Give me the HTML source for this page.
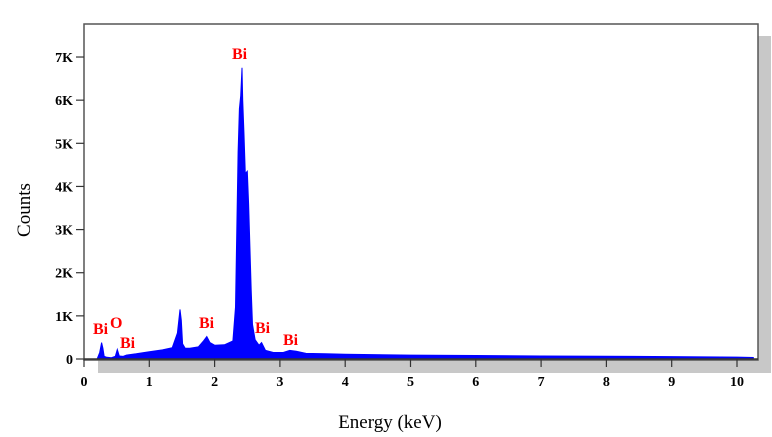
<!DOCTYPE html>
<html><head><meta charset="utf-8"><style>
body{margin:0;background:#fff;width:772px;height:437px;overflow:hidden}
svg{display:block;font-family:"Liberation Serif",serif}
</style></head><body>
<svg width="772" height="437">
<rect x="98" y="360" width="673" height="13" fill="#c8c8c8"/>
<rect x="758" y="36" width="13" height="337" fill="#c8c8c8"/>
<rect x="84" y="24" width="674" height="336" fill="#fff" stroke="#555" stroke-width="1.5"/>
<g id="spec"></g>
<g id="axes"></g>
<g font-family="Liberation Serif,serif" font-weight="bold" font-size="16" fill="#ff0000">
<text x="232" y="59">Bi</text>
<text x="93" y="334">Bi</text>
<text x="110" y="328">O</text>
<text x="120" y="348">Bi</text>
<text x="199" y="328">Bi</text>
<text x="255" y="333">Bi</text>
<text x="283" y="345">Bi</text>
</g>
<text x="30" y="210" font-size="19" text-anchor="middle" transform="rotate(-90 30 210)">Counts</text>
<text x="390" y="428" font-size="19" text-anchor="middle">Energy (keV)</text>
</svg>
<script>
const energies=[0.2,0.24,0.27,0.29,0.31,0.35,0.42,0.48,0.51,0.54,0.6,0.65,0.8,1.0,1.2,1.35,1.43,1.47,1.49,1.51,1.55,1.62,1.75,1.83,1.88,1.93,2.0,2.15,2.28,2.32,2.34,2.36,2.38,2.4,2.42,2.43,2.45,2.47,2.5,2.52,2.54,2.56,2.58,2.62,2.68,2.72,2.78,2.9,3.05,3.15,3.25,3.4,3.7,4.0,5.0,6.0,7.0,8.0,9.0,10.0,10.25];
const counts=[0,150,380,250,60,40,30,60,220,70,60,90,120,170,210,260,600,1150,900,350,250,250,280,420,520,380,320,330,420,1200,3000,4800,5800,6100,6750,6000,5200,4300,4350,3600,2600,1600,800,450,320,380,200,150,150,200,180,130,120,110,90,80,70,65,55,45,35];
const yTicks=[0,1000,2000,3000,4000,5000,6000,7000];
const yTickLabels=["0","1K","2K","3K","4K","5K","6K","7K"];
const xTicks=[0,1,2,3,4,5,6,7,8,9,10];
const X=e=>84+e*65.3, Y=c=>359-c*0.04314;
const NS="http://www.w3.org/2000/svg";
const spec=document.getElementById('spec'), axes=document.getElementById('axes');
let d="M"+X(energies[0])+","+Y(0);
energies.forEach((e,i)=>{d+=" L"+X(e).toFixed(1)+","+Y(counts[i]).toFixed(1);});
d+=" L"+X(energies[energies.length-1])+","+Y(0)+" Z";
const p=document.createElementNS(NS,'path');
p.setAttribute('d',d);p.setAttribute('fill','#0000ff');p.setAttribute('stroke','#0000ff');p.setAttribute('stroke-width','1');


spec.appendChild(p);
function mk(tag,attrs,txt){const el=document.createElementNS(NS,tag);for(const k in attrs)el.setAttribute(k,attrs[k]);if(txt!==undefined)el.textContent=txt;axes.appendChild(el);return el;}
const xl=mk('line',{x1:84,y1:359,x2:758,y2:359,stroke:'#333','stroke-width':1.5});


yTicks.forEach((v,i)=>{
 const t=mk('line',{x1:76,x2:84,y1:Y(v),y2:Y(v),stroke:'#333','stroke-width':1.2});
 
 
 const l=mk('text',{x:73,y:Y(v)+5,'text-anchor':'end','font-size':14,'font-weight':'bold'},yTickLabels[i]);
 
 
});
xTicks.forEach(v=>{
 const t=mk('line',{x1:X(v),x2:X(v),y1:359,y2:367,stroke:'#333','stroke-width':1.2});
 
 
 const l=mk('text',{x:X(v),y:386,'text-anchor':'middle','font-size':14,'font-weight':'bold'},String(v));
 
 
});
</script>
</body></html>
